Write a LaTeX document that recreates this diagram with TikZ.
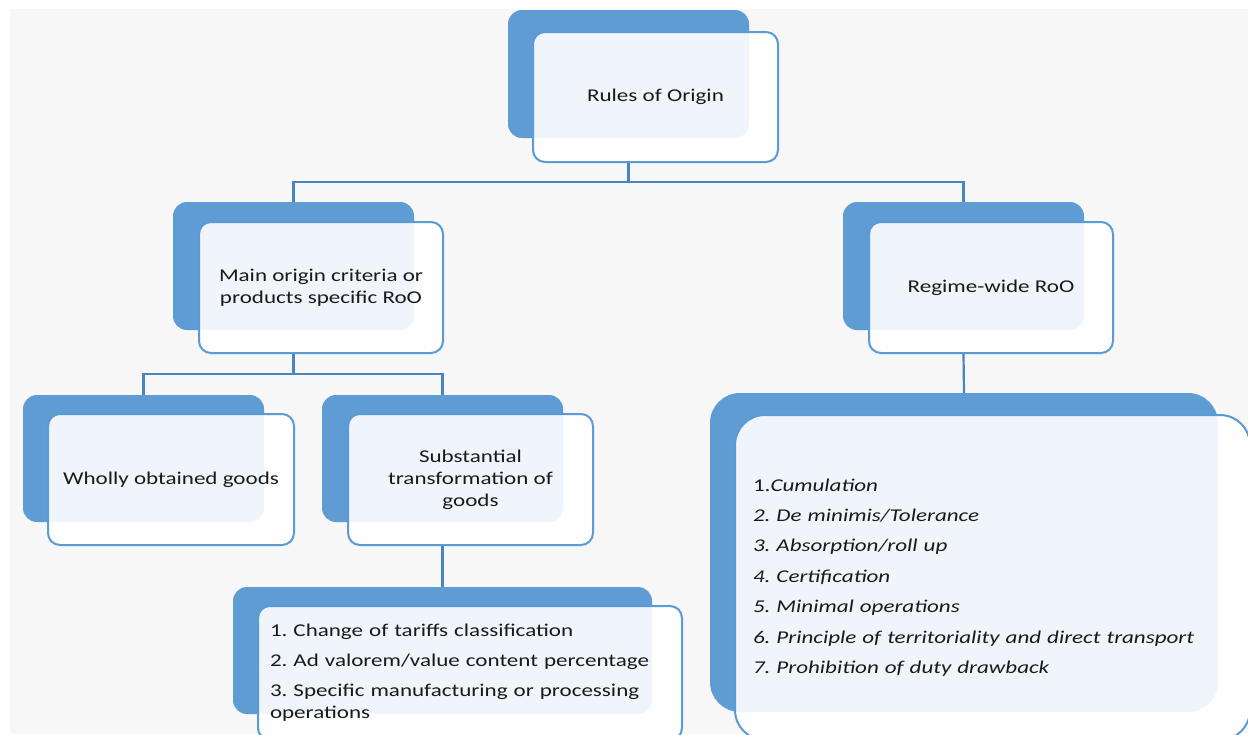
\documentclass[tikz,border=0pt]{standalone}
\usepackage{fontspec}
\setmainfont{Carlito}[FakeStretch=1.28]
\definecolor{roblue}{HTML}{5E9CD3}
\definecolor{roline}{HTML}{5B9BD5}
\definecolor{roconn}{HTML}{4A85BF}
\definecolor{ropanel}{HTML}{F7F7F7}
\definecolor{rotext}{HTML}{1A1A1A}
\tikzset{
  backbox/.style={fill=roblue, rounded corners=14pt, inner sep=0pt},
  frontbox/.style={draw=roline, line width=2pt, fill=white, fill opacity=0.9,
    text opacity=1, text=rotext, rounded corners=12pt, inner sep=0pt,
    align=center, font=\fontsize{18}{22}\selectfont\frenchspacing},
  conn/.style={draw=roconn, line width=2.2pt}
}
\begin{document}
\begin{tikzpicture}[x=1pt,y=-1pt]
  \useasboundingbox (0,0) rectangle (1248,734);
  \clip (0,0) rectangle (1248,734);
  \fill[ropanel] (10,9) rectangle (1248,734);

  % top level
  \node[backbox, minimum width=241pt, minimum height=128pt] (rootback) at (628.5,74) {};
  \node[frontbox, minimum width=245pt, minimum height=130pt] (root) at (655.5,97) {Rules of Origin};

  % second level
  \node[backbox, minimum width=241pt, minimum height=128pt] (mainback) at (293.5,266) {};
  \node[frontbox, minimum width=244pt, minimum height=131pt] (main) at (321,287.5)
    {Main origin criteria or\\products specific RoO};
  \node[backbox, minimum width=241pt, minimum height=128pt] (regimeback) at (963.5,266) {};
  \node[frontbox, minimum width=244pt, minimum height=131pt] (regime) at (991,287.5)
    {Regime-wide RoO};

  % third level
  \node[backbox, minimum width=241pt, minimum height=127pt] (whollyback) at (143.5,458.5) {};
  \node[frontbox, minimum width=246pt, minimum height=131pt] (wholly) at (171,479.5)
    {Wholly obtained goods};
  \node[backbox, minimum width=241pt, minimum height=127pt] (substback) at (442.5,458.5) {};
  \node[frontbox, minimum width=245pt, minimum height=131pt] (subst) at (470.5,479.5)
    {Substantial\\transformation of\\goods};

  % lists
  \node[backbox, minimum width=419pt, minimum height=127pt] (critback) at (442.5,650.5) {};
  \node[frontbox, minimum width=424pt, minimum height=134pt, text width=400pt,
    align=left] (crit) at (470,673)
    {1. Change of tariffs classification\\[8pt]
     2. Ad valorem/value content percentage\\[8pt]
     3. Specific manufacturing or processing\\operations};
  \node[backbox, rounded corners=30pt, minimum width=508pt, minimum height=319pt]
    (wideback) at (964,552.5) {};
  \node[frontbox, rounded corners=30pt, minimum width=515pt, minimum height=325pt,
    text width=479pt, align=left, font=\fontsize{18}{30.4}\selectfont\frenchspacing]
    (wide) at (992.5,577.5)
    {1.\textit{Cumulation}\\
     \textit{2. De minimis/Tolerance}\\
     \textit{3. Absorption/roll up}\\
     \textit{4. Certification}\\
     \textit{5. Minimal operations}\\
     \textit{6. Principle of territoriality and direct transport}\\
     \textit{7. Prohibition of duty drawback}};

  % connectors
  \draw[conn] (rootback.center |- root.south) -- ++(0,19) coordinate (rootjoin);
  \draw[conn] (mainback.north) |- (rootjoin) -| (regimeback.north);
  \draw[conn] (mainback.center |- main.south) -- ++(0,20) coordinate (mainjoin);
  \draw[conn] (whollyback.north) |- (mainjoin) -| (substback.north);
  \draw[conn] (substback.center |- subst.south) -- (critback.north);
  \draw[conn] (regimeback.center |- regime.south) -- (wideback.north);
\end{tikzpicture}
\end{document}
